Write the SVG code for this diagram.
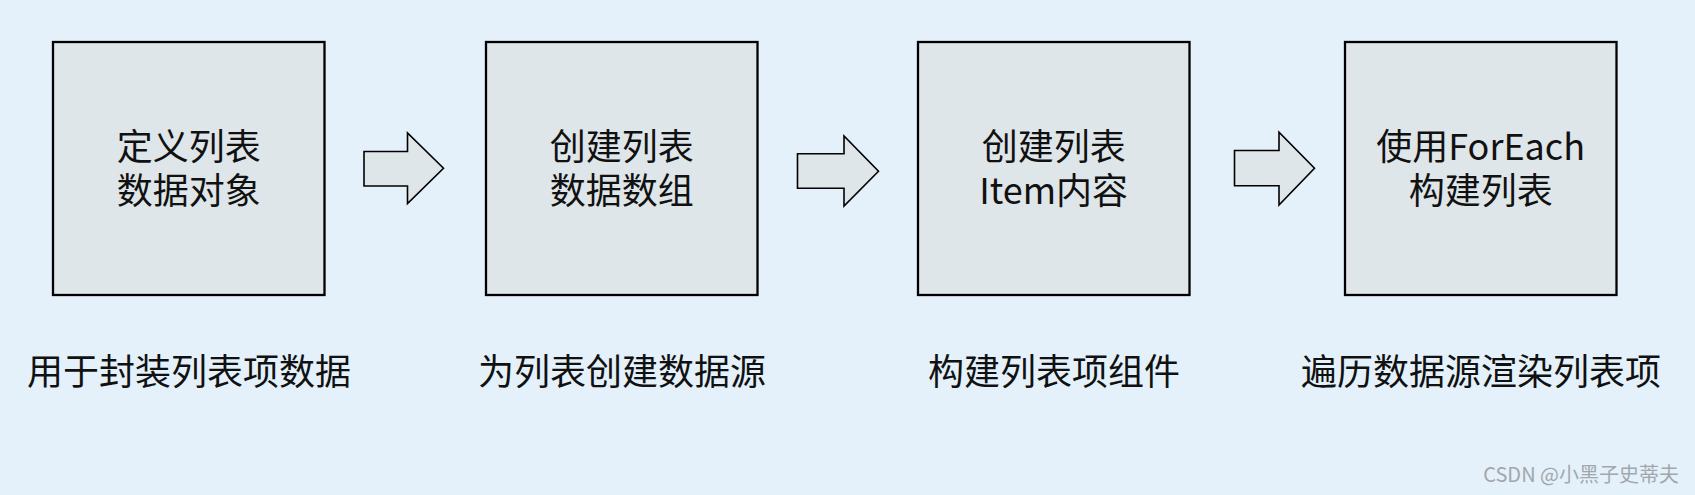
<svg xmlns="http://www.w3.org/2000/svg" width="1695" height="495" viewBox="0 0 1695 495">
<style>
.box{fill:#dfe6e9;stroke:#000;stroke-width:2.3}
.arr{fill:#dfe6e9;stroke:#000;stroke-width:1.6;stroke-linejoin:miter}
.t{font-family:"Noto Sans CJK SC","Noto Sans",sans-serif;font-size:36px;fill:#111;text-anchor:middle}
.wm{font-family:"Noto Sans CJK SC","Liberation Sans",sans-serif;font-size:20px;fill:#a3a7ab;text-anchor:end}
</style>
<rect width="1695" height="495" fill="#e4f1fb"/>
<g id="node1">
<rect class="box" x="53" y="42" width="271.5" height="253"/>
<text class="t"><tspan x="188.7" y="160">定义列表</tspan><tspan x="188.7" y="204">数据对象</tspan></text>
<text class="t" x="189" y="385">用于封装列表项数据</text>
</g>
<g id="node2">
<rect class="box" x="486" y="42" width="271.5" height="253"/>
<text class="t"><tspan x="621.7" y="160">创建列表</tspan><tspan x="621.7" y="204">数据数组</tspan></text>
<text class="t" x="622" y="385">为列表创建数据源</text>
</g>
<g id="node3">
<rect class="box" x="918" y="42" width="271.5" height="253"/>
<text class="t"><tspan x="1053.7" y="160">创建列表</tspan><tspan x="1053.7" y="204">Item内容</tspan></text>
<text class="t" x="1054" y="385">构建列表项组件</text>
</g>
<g id="node4">
<rect class="box" x="1345" y="42" width="271.5" height="253"/>
<text class="t"><tspan x="1480.7" y="160">使用ForEach</tspan><tspan x="1480.7" y="204">构建列表</tspan></text>
<text class="t" x="1481" y="385">遍历数据源渲染列表项</text>
</g>
<g id="connectors">
<polygon class="arr" points="364,151.5 407.5,151.5 407.5,133 443.5,168.3 407.5,203.5 407.5,186 364,186"/>
<polygon class="arr" points="797.5,153.7 844,153.7 844,136 878.5,171.3 844,206 844,188.3 797.5,188.3"/>
<polygon class="arr" points="1234.5,150.5 1279,150.5 1279,132.3 1314.5,168.3 1279,205 1279,185.7 1234.5,185.7"/>
</g>
<text class="wm" x="1679" y="482">CSDN @小黑子史蒂夫</text>
</svg>
